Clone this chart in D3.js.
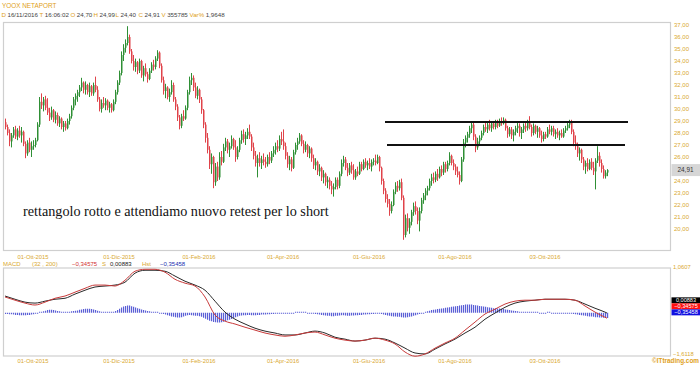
<!DOCTYPE html>
<html>
<head>
<meta charset="utf-8">
<script src="https://cdn.jsdelivr.net/npm/d3@7"></script>
<style>
  body { margin: 0; background: #fff; }
  text { font-family: "Liberation Sans", Arial, sans-serif; }
</style>
</head>
<body>
<svg width="700" height="365"></svg>

<script>

  // ---- data ----
  var firstDay = new Date(2015, 8, 14);
  var lastDay = new Date(2016, 10, 16);
  var holidays = ["2015-12-24", "2015-12-25", "2015-12-31", "2016-01-01", "2016-03-25", "2016-03-28"];

  var opens = [
    28.9,28.5,28.0,27.3,27.8,28.3,27.7,28.2,27.8,28.1, 27.1,26.3,27.2,26.6,26.9,27.0,27.4,28.7,30.6,30.3,
    30.8,30.1,29.7,29.3,29.9,29.1,29.5,28.8,29.2,28.5, 28.8,28.4,29.0,29.4,30.1,30.8,31.1,31.4,31.8,32.2,
    31.6,32.0,31.4,31.9,31.3,32.0,31.6,30.8,30.0,30.5, 30.3,30.7,30.1,30.4,29.9,30.6,31.4,32.2,33.0,34.5,
    35.1,35.5,36.0,34.8,34.0,33.5,33.9,33.2,34.0,32.8, 33.4,32.9,32.5,33.2,33.7,33.5,34.2,34.7,33.6,32.4,
    31.5,31.8,31.0,31.4,32.0,30.8,30.2,29.3,28.6,29.4, 29.2,30.1,31.4,32.4,32.6,31.8,31.1,31.6,30.8,29.9,
    28.7,27.6,26.6,25.4,26.0,23.9,25.2,24.3,26.0,25.6, 26.8,27.3,26.6,26.9,27.5,26.8,26.0,26.6,27.4,27.9,
    27.5,27.8,28.1,27.7,26.8,26.1,25.5,25.9,25.5,25.8, 25.6,25.4,26.0,25.7,26.3,26.6,26.9,26.7,27.5,27.3,
    26.9,26.1,25.4,25.8,25.1,26.4,27.0,27.3,27.8,27.1, 26.6,27.0,26.3,26.7,25.9,25.3,25.6,24.8,25.1,24.3,
    24.6,23.9,24.1,23.6,23.3,23.5,24.1,23.6,24.6,25.5, 25.8,25.1,24.7,25.3,24.9,24.3,24.8,24.6,25.4,25.0,
    25.6,25.3,25.5,25.2,25.6,25.7,25.5,26.0,25.1,24.0, 23.2,22.5,22.1,21.5,22.0,23.1,23.6,23.4,23.9,22.6,
    19.5,20.9,20.1,20.6,21.4,21.9,21.5,20.7,21.5,22.4, 22.8,23.2,23.4,24.0,24.3,24.1,24.6,24.3,25.0,24.7,
    25.4,25.0,25.5,26.1,25.5,25.2,24.8,24.5,24.0,25.8, 27.2,27.6,27.9,28.4,28.7,27.7,26.8,27.3,27.6,28.0,
    28.5,28.3,28.7,28.4,28.8,28.5,28.9,28.6,29.0,28.8, 29.1,28.4,27.9,28.3,27.8,28.1,28.4,28.6,28.0,28.3,
    28.6,28.4,28.9,28.5,28.0,28.6,28.1,28.4,27.8,27.5, 27.9,27.7,28.3,28.1,28.4,27.9,28.1,27.8,28.0,27.7,
    28.2,28.4,28.7,28.9,28.1,27.2,26.9,26.3,26.6,25.8, 25.2,25.5,25.0,25.6,25.1,24.8,25.7,26.1,25.5,25.0,
    24.4,24.70
  ];
  var highs = [
    29.2,28.7,28.3,28.0,28.5,28.6,28.4,28.6,28.5,28.2, 27.3,27.4,27.6,27.3,27.4,27.6,28.9,31.0,31.3,31.0,
    31.1,30.9,30.1,30.2,30.0,29.8,29.7,29.4,29.3,29.0, 29.0,29.2,29.6,30.3,31.0,31.3,31.6,32.0,32.6,32.3,
    32.3,32.1,32.2,32.0,32.2,32.7,31.9,31.0,30.8,31.0, 30.9,30.8,30.6,30.5,30.8,31.6,32.4,33.2,34.8,35.4,
    35.8,36.9,36.2,35.0,34.5,34.2,34.0,34.2,34.1,33.6, 33.8,33.1,33.4,33.9,34.1,34.4,34.9,34.8,33.8,32.7,
    32.1,31.9,31.7,32.4,32.2,31.0,30.4,29.5,29.6,29.9, 30.3,31.6,32.7,33.0,32.8,32.2,31.9,31.7,31.0,30.0,
    28.9,28.0,26.9,26.3,26.1,25.5,25.6,26.4,26.5,27.1, 27.6,27.5,27.2,27.8,27.6,27.4,26.9,27.6,28.2,28.3,
    28.1,28.4,28.7,27.9,27.2,26.5,26.2,26.4,26.1,26.3, 26.0,26.2,26.4,26.5,26.9,27.2,27.4,27.8,28.1,28.3,
    27.2,26.4,26.1,26.0,26.6,27.2,27.6,28.0,27.9,27.4, 27.3,27.1,26.9,26.8,26.2,25.9,25.7,25.4,25.2,24.9,
    24.7,24.4,24.3,24.0,23.8,24.3,24.3,24.8,25.8,26.1, 26.0,25.5,25.5,25.6,25.4,25.0,25.2,25.6,25.6,25.8,
    25.9,25.7,25.9,25.8,25.9,26.2,26.2,26.1,25.2,24.2, 23.4,22.9,22.5,22.3,23.3,23.9,24.0,24.1,24.2,22.8,
    21.2,21.3,20.9,21.6,22.2,22.3,21.8,21.8,22.6,23.0, 23.4,23.6,24.2,24.6,24.7,24.8,25.0,25.2,25.3,25.6,
    25.6,25.7,26.4,26.2,25.8,25.4,25.2,24.8,26.0,27.5, 27.8,28.1,28.6,28.9,28.9,27.9,27.6,27.8,28.2,28.7,
    29.0,28.9,29.1,28.9,29.0,29.1,29.1,29.2,29.3,29.3, 29.2,28.6,28.5,28.5,28.3,28.6,28.9,28.8,28.5,28.8,
    28.9,29.1,29.4,28.7,28.8,28.7,28.6,28.5,28.2,28.1, 28.1,28.5,28.7,28.6,28.6,28.3,28.4,28.2,28.3,28.4,
    28.6,28.9,29.1,29.1,28.3,27.8,27.2,26.8,26.7,26.0, 25.7,25.9,25.8,25.9,25.6,25.9,26.9,26.4,25.8,25.3,
    24.9,24.99
  ];
  var lows = [
    28.3,27.8,26.9,26.8,27.6,27.5,27.4,27.6,27.2,26.9, 25.9,26.1,26.4,26.0,26.6,26.8,27.3,28.5,30.0,29.8,
    29.9,29.5,29.0,29.1,28.9,28.8,28.6,28.5,28.3,28.1, 28.2,28.3,28.7,29.2,29.9,30.3,30.6,31.0,31.5,31.3,
    31.2,31.2,31.0,31.1,31.1,31.4,30.6,29.8,29.7,30.1, 29.9,29.9,29.7,29.7,29.8,30.4,31.2,32.0,32.8,34.0,
    34.7,35.3,34.6,33.8,33.2,33.1,32.9,33.0,32.6,32.3, 32.7,32.2,32.4,33.0,33.2,33.3,34.0,33.4,32.2,31.2,
    30.9,30.8,30.6,31.2,30.6,29.9,29.0,28.3,28.4,29.0, 29.1,29.9,31.2,32.0,31.5,30.9,30.8,30.5,29.6,28.4,
    27.2,26.3,25.0,24.6,23.4,23.6,24.0,24.1,25.3,25.5, 26.5,26.3,26.0,26.7,26.6,25.6,25.8,26.4,27.1,27.2,
    27.0,27.5,27.5,26.5,25.8,25.2,24.3,25.2,25.0,25.3, 25.1,25.2,25.4,25.5,26.0,26.2,26.4,26.5,27.0,26.6,
    25.8,25.1,24.9,24.8,25.0,26.2,26.6,27.1,26.9,26.3, 26.4,26.0,25.9,25.6,25.0,24.9,24.5,24.4,24.0,23.8,
    23.6,23.4,23.3,22.9,22.7,23.3,23.3,23.4,24.4,25.2, 24.9,24.4,24.5,24.6,24.1,24.1,24.4,24.5,24.8,24.9,
    25.1,24.9,25.0,24.8,25.3,25.3,25.4,24.8,23.7,22.9, 22.2,21.8,21.1,21.3,21.9,22.9,23.1,23.2,22.4,19.1,
    19.3,19.8,19.6,20.3,21.1,21.2,20.4,19.8,21.3,22.1, 22.4,22.8,23.2,23.6,23.8,23.9,24.0,24.2,24.4,24.5,
    24.7,24.8,25.3,25.3,24.9,24.5,24.3,23.7,23.9,25.6, 26.8,27.2,27.6,28.0,27.4,26.4,26.6,27.0,27.4,27.8,
    28.1,28.0,28.2,28.1,28.3,28.3,28.4,28.5,28.6,28.7, 28.2,27.6,27.7,27.5,27.3,27.8,28.0,27.7,27.5,28.0,
    28.1,28.2,28.3,27.7,27.8,27.9,27.6,27.6,27.2,27.3, 27.5,27.6,27.9,27.8,27.7,27.5,27.6,27.4,27.6,27.6,
    28.0,28.2,28.4,27.9,26.9,26.6,26.0,25.7,25.5,24.9, 24.6,24.8,24.9,24.9,24.5,23.3,25.5,25.2,24.7,24.2,
    24.2,24.40
  ];
  var closes = [
    28.5,28.0,27.3,27.8,28.3,27.7,28.2,27.8,28.1,27.1, 26.3,27.2,26.6,26.9,27.0,27.4,28.7,30.6,30.3,30.8,
    30.1,29.7,29.3,29.9,29.1,29.5,28.8,29.2,28.5,28.8, 28.4,29.0,29.4,30.1,30.8,31.1,31.4,31.8,32.2,31.6,
    32.0,31.4,31.9,31.3,32.0,31.6,30.8,30.0,30.5,30.3, 30.7,30.1,30.4,29.9,30.6,31.4,32.2,33.0,34.5,35.1,
    35.5,36.0,34.8,34.0,33.5,33.9,33.2,34.0,32.8,33.4, 32.9,32.5,33.2,33.7,33.5,34.2,34.7,33.6,32.4,31.5,
    31.8,31.0,31.4,32.0,30.8,30.2,29.3,28.6,29.4,29.2, 30.1,31.4,32.4,32.6,31.8,31.1,31.6,30.8,29.9,28.7,
    27.6,26.6,25.4,26.0,23.9,25.2,24.3,26.0,25.6,26.8, 27.3,26.6,26.9,27.5,26.8,26.0,26.6,27.4,27.9,27.5,
    27.8,28.1,27.7,26.8,26.1,25.5,25.9,25.5,25.8,25.6, 25.4,26.0,25.7,26.3,26.6,26.9,26.7,27.5,27.3,26.9,
    26.1,25.4,25.8,25.1,26.4,27.0,27.3,27.8,27.1,26.6, 27.0,26.3,26.7,25.9,25.3,25.6,24.8,25.1,24.3,24.6,
    23.9,24.1,23.6,23.3,23.5,24.1,23.6,24.6,25.5,25.8, 25.1,24.7,25.3,24.9,24.3,24.8,24.6,25.4,25.0,25.6,
    25.3,25.5,25.2,25.6,25.7,25.5,26.0,25.1,24.0,23.2, 22.5,22.1,21.5,22.0,23.1,23.6,23.4,23.9,22.6,19.5,
    20.9,20.1,20.6,21.4,21.9,21.5,20.7,21.5,22.4,22.8, 23.2,23.4,24.0,24.3,24.1,24.6,24.3,25.0,24.7,25.4,
    25.0,25.5,26.1,25.5,25.2,24.8,24.5,24.0,25.8,27.2, 27.6,27.9,28.4,28.7,27.7,26.8,27.3,27.6,28.0,28.5,
    28.3,28.7,28.4,28.8,28.5,28.9,28.6,29.0,28.8,29.1, 28.4,27.9,28.3,27.8,28.1,28.4,28.6,28.0,28.3,28.6,
    28.4,28.9,28.5,28.0,28.6,28.1,28.4,27.8,27.5,27.9, 27.7,28.3,28.1,28.4,27.9,28.1,27.8,28.0,27.7,28.2,
    28.4,28.7,28.9,28.1,27.2,26.9,26.3,26.6,25.8,25.2, 25.5,25.0,25.6,25.1,24.8,25.7,26.1,25.5,25.0,24.4,
    24.70,24.91
  ];

  // MACD (red) and signal (black), read every 5 bars, plus the last bar
  var macdStep = 5;
  var macdValues = [
    0.16,0.06,-0.03,-0.09,0.00,0.12,0.19,0.31,0.43,0.53,
    0.53,0.50,0.68,0.96,1.02,1.02,0.93,0.71,0.59,0.50,
    0.16,-0.40,-0.59,-0.68,-0.78,-0.87,-0.96,-1.02,-1.06,-1.02,
    -0.96,-0.93,-1.02,-1.12,-1.18,-1.21,-1.18,-1.12,-1.18,-1.30,
    -1.55,-1.68,-1.61,-1.43,-1.27,-1.12,-0.87,-0.62,-0.37,-0.22,
    -0.06,0.03,0.06,0.06,0.09,0.09,0.09,0.06,-0.12,-0.31,
    -0.47,-0.50
  ];
  var signalValues = [
    0.19,0.09,0.00,-0.03,0.03,0.09,0.12,0.25,0.37,0.47,
    0.50,0.53,0.62,0.90,0.99,0.99,0.96,0.81,0.65,0.53,
    0.37,0.03,-0.31,-0.53,-0.68,-0.81,-0.90,-0.96,-1.02,-1.02,
    -0.96,-0.90,-0.96,-1.09,-1.15,-1.21,-1.18,-1.12,-1.15,-1.27,
    -1.43,-1.58,-1.61,-1.46,-1.30,-1.15,-0.96,-0.78,-0.53,-0.34,
    -0.16,-0.03,0.03,0.06,0.09,0.09,0.09,0.06,-0.06,-0.19,
    -0.31,-0.34
  ];
  var histValues = [
    -0.04,-0.04,-0.05,-0.05,-0.06,-0.07,-0.07,-0.08,-0.08,-0.08, -0.08,-0.07,-0.07,-0.06,-0.05,-0.03,-0.01,0.01,0.02,0.04,
    0.06,0.08,0.09,0.09,0.08,0.07,0.05,0.04,0.03,0.02, 0.02,0.02,0.03,0.04,0.05,0.06,0.07,0.09,0.10,0.11,
    0.12,0.12,0.12,0.11,0.10,0.08,0.06,0.04,0.03,0.02, 0.01,0.01,0.02,0.02,0.03,0.05,0.08,0.12,0.16,0.19,
    0.21,0.22,0.22,0.20,0.18,0.16,0.14,0.12,0.10,0.08, 0.07,0.05,0.04,0.03,0.02,0.02,0.01,0.00,-0.02,-0.04,
    -0.06,-0.08,-0.10,-0.12,-0.13,-0.14,-0.15,-0.15,-0.14,-0.12, -0.10,-0.08,-0.07,-0.08,-0.09,-0.10,-0.10,-0.11,-0.13,-0.16,
    -0.19,-0.22,-0.25,-0.27,-0.29,-0.30,-0.31,-0.31,-0.30,-0.28, -0.26,-0.24,-0.22,-0.20,-0.17,-0.14,-0.12,-0.10,-0.09,-0.08,
    -0.08,-0.07,-0.07,-0.08,-0.08,-0.08,-0.07,-0.07,-0.06,-0.06, -0.06,-0.05,-0.05,-0.04,-0.04,-0.03,-0.03,-0.02,-0.02,-0.02,
    -0.01,-0.01,-0.02,-0.01,0.00,0.01,0.01,0.02,0.02,0.01, 0.01,0.00,-0.01,-0.02,-0.03,-0.04,-0.05,-0.06,-0.07,-0.08,
    -0.09,-0.10,-0.10,-0.11,-0.11,-0.10,-0.10,-0.09,-0.08,-0.08, -0.09,-0.10,-0.10,-0.09,-0.09,-0.08,-0.08,-0.07,-0.07,-0.06,
    -0.06,-0.05,-0.05,-0.04,-0.04,-0.03,-0.03,-0.03,-0.04,-0.06, -0.07,-0.09,-0.10,-0.11,-0.12,-0.12,-0.13,-0.13,-0.14,-0.15,
    -0.15,-0.14,-0.13,-0.12,-0.10,-0.08,-0.06,-0.04,-0.02,0.00, 0.02,0.04,0.06,0.08,0.09,0.10,0.11,0.12,0.13,0.14,
    0.15,0.16,0.17,0.18,0.19,0.20,0.21,0.22,0.23,0.24, 0.25,0.25,0.25,0.25,0.24,0.23,0.22,0.21,0.20,0.19,
    0.18,0.17,0.16,0.15,0.14,0.14,0.13,0.13,0.12,0.11, 0.10,0.09,0.08,0.07,0.06,0.05,0.04,0.03,0.03,0.02,
    0.02,0.02,0.01,0.01,0.01,0.01,0.01,0.00,0.00,0.00, 0.00,0.01,0.01,0.00,0.00,0.00,-0.01,-0.01,-0.01,-0.02,
    -0.02,-0.02,-0.03,-0.03,-0.04,-0.05,-0.06,-0.07,-0.08,-0.09, -0.10,-0.11,-0.12,-0.12,-0.13,-0.14,-0.14,-0.15,-0.15,-0.16,
    -0.16,-0.17
  ];

  var priceTicks = [37,36,35,34,33,32,31,30,29,28,27,26,25,24,23,22,21,20];
  var tickDates = ["2015-10-01", "2015-12-01", "2016-02-01", "2016-04-01", "2016-06-01", "2016-08-01", "2016-10-03"];
  var tickLabels = ["01-Ott-2015", "01-Dic-2015", "01-Feb-2016", "01-Apr-2016", "01-Giu-2016", "01-Ago-2016", "03-Ott-2016"];

  // the two drawn levels (price, first bar, last bar)
  var levelPrices = [28.92, 27.0];
  var levelStart = [190, 191];
  var levelEnd = [311.5, 310];

  var macdHeader = { macd: -0.34575, signal: 0.00883, hist: -0.35458 };
  var macdMin = -1.6118, macdMax = 1.0607;
  var note = "rettangolo rotto e attendiamo nuovo retest per lo short";

  // ---- styles ----
  var gold = "#d9a830";
  var upColor = "#2f8f35";
  var downColor = "#e0434a";
  var frameColor = "#cfcfcf";

  var svg = d3.select("svg");
  var fmtDay = d3.timeFormat("%Y-%m-%d");
  var comma = function(v, p){ return d3.format("." + p + "f")(v).replace(".", ","); };

  // trading days (weekdays minus market holidays)
  var dates = d3.timeDay.range(firstDay, d3.timeDay.offset(lastDay, 1)).filter(function(d){
    return d.getDay() > 0 && d.getDay() < 6 && holidays.indexOf(fmtDay(d)) < 0;
  });
  var dayKeys = dates.map(fmtDay);

  var bars = closes.map(function(c, i){
    return { i: i, o: opens[i], h: highs[i], l: lows[i], c: c };
  });

  // scales
  var x = d3.scaleLinear().domain([0, bars.length - 1]).range([5, 607]);
  var y = d3.scaleLinear().domain([20, 37]).range([229, 25]);
  var macdY = d3.scaleLinear().domain([macdMin, macdMax]).range([354, 268]);
  var histY = d3.scaleLinear().domain([macdMin, macdMax]).range([364, 278]);

  // ---- header ----
  svg.append("text").attr("x", 2).attr("y", 7.5)
    .style("font-size", "6.4px").style("fill", "#e0a020")
    .text("YOOX NETAPORT");

  var header = [
    ["D", "16/11/2016"], ["T", "16:06:02"], ["O", comma(opens[301], 2)], ["H", comma(highs[301], 2)],
    ["L", comma(lows[301], 2)], ["C", comma(closes[301], 2)], ["V", "355785"], ["Var%", "1,9648"]
  ];
  var hx = [1.5, 39.5, 70.5, 93.5, 115.5, 138.5, 161.5, 189.5];
  var ht = svg.append("text").attr("y", 16.5).style("font-size", "6.2px");
  header.forEach(function(h, k){
    ht.append("tspan").attr("x", hx[k]).style("fill", "#e0a020").text(h[0]);
    ht.append("tspan").attr("dx", 1.5).style("fill", "#444").text(h[1]);
  });

  // ---- main panel ----
  svg.append("rect").attr("x", 3.5).attr("y", 22.5).attr("width", 667).attr("height", 228)
    .style("fill", "none").style("stroke", frameColor).style("stroke-width", 1.2);

  var candle = svg.append("g").selectAll("g").data(bars).enter().append("g")
    .style("stroke", function(d){ return d.c >= d.o ? upColor : downColor; })
    .style("fill", function(d){ return d.c >= d.o ? upColor : downColor; });

  candle.append("line")
    .attr("x1", function(d){ return x(d.i) + 0.5; })
    .attr("x2", function(d){ return x(d.i) + 0.5; })
    .attr("y1", function(d){ return y(d.h); })
    .attr("y2", function(d){ return y(d.l); })
    .style("stroke-width", 1);

  candle.append("rect")
    .attr("x", function(d){ return x(d.i); })
    .attr("width", 1.5)
    .attr("y", function(d){ return y(Math.max(d.o, d.c)); })
    .attr("height", function(d){ return Math.max(1, Math.abs(y(d.o) - y(d.c))); })
    .style("stroke", "none");

  // drawn levels
  svg.append("g").selectAll("line").data(levelPrices).enter().append("line")
    .attr("x1", function(d, k){ return x(levelStart[k]); })
    .attr("x2", function(d, k){ return x(levelEnd[k]); })
    .attr("y1", function(d){ return y(d); })
    .attr("y2", function(d){ return y(d); })
    .style("stroke", "#111").style("stroke-width", 2);

  // right price axis (the tick hidden behind the last-price box is dropped)
  var last = closes[closes.length - 1];
  svg.append("g").selectAll("text")
    .data(priceTicks.filter(function(t){ return Math.abs(y(t) - y(last)) > 7; }))
    .enter().append("text")
    .attr("x", 674).attr("y", function(d){ return y(d) + 2; })
    .style("font-size", "6px").style("fill", gold)
    .text(function(d){ return comma(d, 2); });

  svg.append("rect").attr("x", 671.5).attr("y", y(last) - 6).attr("width", 28.5).attr("height", 12)
    .style("fill", "#d6d6d6");
  svg.append("text").attr("x", 685.5).attr("y", y(last) + 2.3).attr("text-anchor", "middle")
    .style("font-size", "6.4px").style("fill", "#333").text(comma(last, 2));

  // annotation
  svg.append("text").attr("x", 23).attr("y", 216)
    .style("font-family", "'Liberation Serif', 'Times New Roman', serif")
    .style("font-size", "14.2px").style("fill", "#111")
    .text(note);

  // date labels under both panels
  var tickIdx = tickDates.map(function(d){ return dayKeys.indexOf(d); });
  [258.5, 363].forEach(function(ty){
    svg.append("g").selectAll("text").data(tickLabels).enter().append("text")
      .attr("x", function(d, k){ return x(tickIdx[k]) + 2; })
      .attr("y", ty).attr("text-anchor", "middle")
      .style("font-size", "5.8px").style("fill", gold)
      .text(function(d){ return d; });
  });

  // ---- MACD panel ----
  var mh = svg.append("text").attr("y", 265.5).style("font-size", "6px");
  mh.append("tspan").attr("x", 3).style("fill", gold).text("MACD");
  mh.append("tspan").attr("x", 32).style("fill", gold).text("(32 , 200)");
  mh.append("tspan").attr("x", 72).style("fill", "#d23030").text(comma(macdHeader.macd, 5));
  mh.append("tspan").attr("x", 102).style("fill", gold).text("S");
  mh.append("tspan").attr("x", 110).style("fill", "#222").text(comma(macdHeader.signal, 5));
  mh.append("tspan").attr("x", 142).style("fill", gold).text("Hst");
  mh.append("tspan").attr("x", 160).style("fill", "#2030b0").text(comma(macdHeader.hist, 5));

  svg.append("rect").attr("x", 3.5).attr("y", 268).attr("width", 667).attr("height", 88)
    .style("fill", "none").style("stroke", frameColor).style("stroke-width", 1.2);

  // histogram: thin hatch per bar, drawn as strokes so the blue survives
  svg.append("g").selectAll("line").data(histValues).enter().append("line")
    .attr("x1", function(d, i){ return x(i) + 0.6; })
    .attr("x2", function(d, i){ return x(i) + 0.6; })
    .attr("y1", histY(0) + 0.5)
    .attr("y2", function(d){
      var h = histY(d) - histY(0);
      return histY(0) + 0.5 + (Math.abs(h) < 1 ? (h < 0 ? -1 : 1) : h);
    })
    .style("stroke", "#5b5fd6").style("stroke-width", 1.2);

  var knotIdx = macdValues.map(function(d, k){ return Math.min(k * macdStep, bars.length - 1); });
  var macdLine = d3.line()
    .x(function(d, k){ return x(knotIdx[k]); })
    .y(function(d){ return macdY(d); })
    .curve(d3.curveMonotoneX);

  svg.append("path").attr("d", macdLine(signalValues))
    .style("fill", "none").style("stroke", "#2a2a2a").style("stroke-width", 1);
  svg.append("path").attr("d", macdLine(macdValues))
    .style("fill", "none").style("stroke", "#c83a3a").style("stroke-width", 1);

  // right MACD labels
  svg.append("text").attr("x", 673).attr("y", 269).style("font-size", "5.8px").style("fill", gold)
    .text(comma(macdMax, 4));
  svg.append("text").attr("x", 673).attr("y", 355.5).style("font-size", "5.8px").style("fill", gold)
    .text(comma(macdMin, 4));

  var boxes = [
    { v: macdHeader.signal, fill: "#000" },
    { v: macdHeader.macd, fill: "#ff1010" },
    { v: macdHeader.hist, fill: "#1010e0" }
  ];
  var boxTop = macdY(macdHeader.signal) - 4.5;
  boxes.forEach(function(b, k){
    svg.append("rect").attr("x", 671.5).attr("y", boxTop + k * 6).attr("width", 28.5).attr("height", 6)
      .style("fill", b.fill);
    svg.append("text").attr("x", 686).attr("y", boxTop + k * 6 + 4.8).attr("text-anchor", "middle")
      .style("font-size", "5.6px").style("fill", "#fff").text(comma(b.v, 5));
  });

  // credit
  svg.append("text").attr("x", 699).attr("y", 363).attr("text-anchor", "end")
    .style("font-size", "6.4px").style("font-weight", "bold").style("fill", "#e0a020")
    .text("\u00a9ITtrading.com");

</script>
</body>
</html>
